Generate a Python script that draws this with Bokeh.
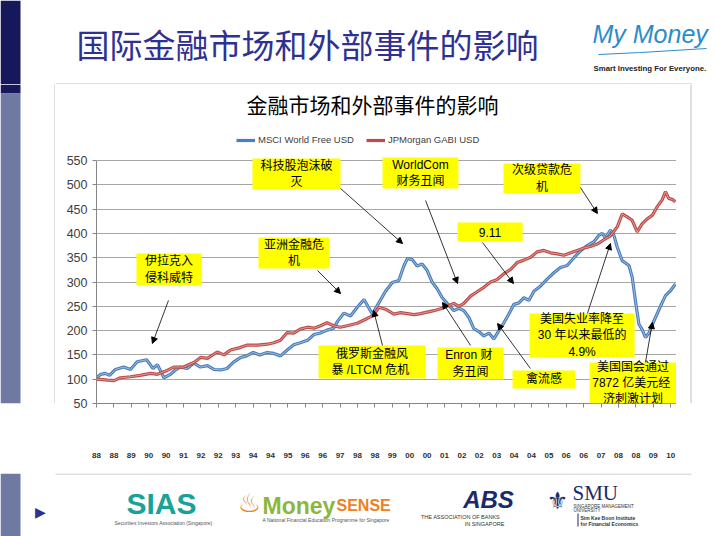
from bokeh.plotting import figure
from bokeh.layouts import column, row
from bokeh.models import (Range1d, FixedTicker, Label, BoxAnnotation, Arrow,
                          NormalHead, Legend, LegendItem)
from bokeh.embed import file_html
from bokeh.resources import INLINE

# ---------------- data (months since Jan 1988, index level) ----------------
msci_month = [0, 2, 4, 6, 8.7, 12.5, 15.6, 18.7, 23, 26, 28, 31, 34, 36, 38.4, 41.7,
              44.7, 47.8, 51, 54, 57, 60, 63, 66, 69, 72, 75, 78.5, 81.5, 84.6, 87.7,
              90.7, 93.7, 97, 100, 103, 106, 109, 111, 113.7, 116.8, 119.9, 123, 126.8,
              129.8, 132.9, 136, 139, 141.3, 142.9, 145.2, 147.4, 149.7, 152, 154.3,
              156.6, 158.9, 161.2, 164.3, 166.6, 168.9, 171.2, 173.5, 175.8, 178.1,
              180.4, 182.7, 185, 187.3, 189.6, 191.9, 194.2, 196.5, 198.8, 201.1,
              204.2, 207.2, 210.3, 213.3, 216.4, 219.5, 222.5, 225.6, 228.7, 231,
              232.5, 234, 236.3, 237.9, 239.4, 241.7, 244.8, 246.3, 247.9, 249.4,
              250.9, 252.4, 254, 255.5, 257, 259.3, 261.6, 263.9, 266.2]
msci_value = [103, 110, 112, 108, 120, 125, 120, 136, 140, 122, 130, 103, 110, 118, 125, 122,
              133, 125, 128, 120, 119, 122, 135, 144, 148, 155, 150, 155, 153, 148, 160,
              171, 175, 180, 192, 195, 201, 205, 220, 236, 230, 248, 264, 234,
              257, 281, 299, 303, 333, 348, 346, 333, 337, 324, 300,
              286, 268, 256, 241, 246, 241, 227, 204, 198, 189,
              195, 183, 200, 216, 234, 254, 257, 268, 262, 281,
              292, 306, 319, 330, 334, 350, 364, 375, 383, 396,
              400, 391, 407, 396, 372, 344, 334, 310, 258, 213,
              202, 186, 195, 212, 227, 250, 272, 282, 296]

jpm_month = [0, 3, 5, 8, 11, 15.6, 20, 25, 28, 32.5, 35.5, 40, 45, 48, 51, 55.5, 58.6,
             61.6, 66, 69, 74, 78.5, 81.5, 84.6, 87.7, 90.7, 93.7, 97, 100, 103, 106,
             109, 112, 115.3, 119.9, 124.5, 127.5, 129.8, 132.9, 136.7, 139.8, 142.9,
             146, 149, 152, 155.1, 158.2, 161.2, 164.3, 166.6, 168.9, 172, 175, 178.1,
             181.2, 184.2, 187.3, 190.4, 193.4, 196.5, 199.6, 202.6, 205.7, 208.8,
             211.8, 214.9, 218, 221, 224.1, 227.1, 230.2, 233.3, 236.3, 239.4, 241.7,
             244, 246.3, 248.6, 250.9, 253.2, 255.5, 257.8, 260.1, 261.6, 263.1,
             264.7, 266.2]
jpm_value = [100, 99, 98, 97, 103, 105, 108, 112, 110, 118, 125, 125, 135, 145, 143, 156, 150,
             160, 165, 170, 170, 172, 175, 180, 196, 195, 203, 207, 205, 210, 216,
             210, 207, 210, 215, 225, 232, 248, 244, 234, 237, 235,
             233, 235, 238, 241, 245, 250, 256, 250, 256, 271, 280, 289,
             300, 305, 317, 326, 340, 345, 351, 362, 365, 360,
             358, 355, 360, 365, 370, 373, 378, 387, 395, 413, 440,
             434, 427, 403, 420, 430, 437, 455, 469, 486, 472,
             470, 465]

series_names = ["MSCI World Free USD", "JPMorgan GABI USD"]
y_ticks = [50, 100, 150, 200, 250, 300, 350, 400, 450, 500, 550]
x_ticks = [0, 8, 16, 24, 32, 40, 48, 56, 64, 72, 80, 88, 96, 104, 112, 120, 128,
           136, 144, 152, 160, 168, 176, 184, 192, 200, 208, 216, 224, 232, 240,
           248, 256, 264]
x_labels = ["88", "88", "89", "90", "90", "91", "92", "92", "93", "94", "94", "95",
            "96", "96", "97", "98", "98", "99", "00", "00", "01", "02", "02", "03",
            "04", "04", "05", "06", "06", "07", "08", "08", "09", "10"]

# event call-outs: text, box (left, right, top, bottom) and arrow (from -> to), data units
events = ["伊拉克入\n侵科威特", "科技股泡沫破\n灭", "亚洲金融危\n机", "WorldCom\n财务丑闻",
          "次级贷款危\n机", "9.11", "俄罗斯金融风\n暴 /LTCM  危机", "Enron  财\n务丑闻",
          "禽流感", "美国失业率降至\n30 年以来最低的\n4.9%",
          "美国国会通过\n7872  亿美元经\n济刺激计划"]
event_box = [(18.4, 48.3, 358.6, 292.8), (71.7, 112.2, 554.1, 490.3),
             (74.5, 107.1, 391.6, 327.8), (131.5, 166.4, 556.2, 492.4),
             (187.1, 222.5, 543.8, 482.1), (166.0, 195.9, 422.4, 383.3),
             (102.1, 151.3, 169.3, 101.4), (156.8, 187.1, 165.2, 99.4),
             (191.3, 220.2, 117.9, 80.9), (199.1, 247.4, 235.2, 144.7),
             (226.7, 266.6, 134.4, 50.2)]
event_arrow = [(33.1, 262.0, 25.7, 173.5), (112.2, 492.4, 140.7, 379.2),
               (101.6, 323.7, 112.2, 276.3), (151.3, 467.7, 166.0, 296.9),
               (222.5, 494.4, 230.3, 440.9), (177.5, 381.3, 191.7, 296.9),
               (131.5, 169.3, 127.4, 241.4), (172.0, 169.3, 159.1, 257.8),
               (199.5, 122.0, 184.4, 214.6), (225.7, 235.2, 236.3, 379.2),
               (252.4, 134.4, 255.6, 216.7)]

# ---------------- geometry of the slide (pixels) ----------------
W, H = 715, 536
BOX_L, BOX_T, BOX_R, BOX_B = 55, 84, 690, 473      # chart border
FL, FR, FT, FB = 96, 676, 84, 403                   # chart frame (data area below y=160)
PLOT_TOP = 160
X0, X1, Y0, Y1 = 0, 266.67, 50, 550
Y_TOP = Y0 + (FB - FT) / (FB - PLOT_TOP) * (Y1 - Y0)


def dx(px):
    return X0 + (px - FL) / (FR - FL) * (X1 - X0)


def dy(py):
    return Y0 + (FB - py) / (FB - PLOT_TOP) * (Y1 - Y0)


CJK = "'Liberation Sans', 'Noto Sans CJK SC'"
NAVY = "#17175C"
SLATE = "#6E7AA2"
FRAME = "#BFBFBF"

# ---------------- chart ----------------
p = figure(width=FR - BOX_L, height=BOX_B - BOX_T, output_backend="svg",
           toolbar_location=None, title=None,
           x_range=Range1d(X0, X1), y_range=Range1d(Y0, Y_TOP),
           min_border_left=FL - BOX_L, min_border_right=0,
           min_border_top=0, min_border_bottom=BOX_B - FB)
p.outline_line_color = None
p.background_fill_color = "white"
p.border_fill_color = "white"
p.xgrid.visible = False
p.ygrid.grid_line_color = "#A6A6A6"
p.ygrid.grid_line_width = 1

p.yaxis.ticker = FixedTicker(ticks=y_ticks)
p.yaxis.bounds = (Y0, Y1)
p.yaxis.axis_line_color = "#868686"
p.yaxis.major_tick_line_color = "#868686"
p.yaxis.major_tick_out = 4
p.yaxis.major_tick_in = 0
p.yaxis.minor_tick_line_color = None
p.yaxis.major_label_text_font = "Liberation Sans"
p.yaxis.major_label_text_font_size = "12.5px"
p.yaxis.major_label_text_color = "#404040"
p.yaxis.major_label_standoff = 5

p.xaxis.ticker = FixedTicker(ticks=x_ticks)
p.xaxis.major_label_overrides = {t: l for t, l in zip(x_ticks, x_labels)}
p.xaxis.axis_line_color = "#868686"
p.xaxis.major_tick_line_color = "#868686"
p.xaxis.major_tick_out = 4
p.xaxis.major_tick_in = 0
p.xaxis.minor_tick_line_color = None
p.xaxis.major_label_text_font = "Liberation Sans"
p.xaxis.major_label_text_font_style = "bold"
p.xaxis.major_label_text_font_size = "8px"
p.xaxis.major_label_text_color = "#303030"
p.xaxis.major_label_standoff = 45

r_msci = p.line(msci_month, msci_value, line_color="#4A7EBB", line_width=3.2)
p.line(msci_month, msci_value, line_color="#D5E2F2", line_width=0.8, line_alpha=0.8)
r_jpm = p.line(jpm_month, jpm_value, line_color="#BE4B48", line_width=3.2)
p.line(jpm_month, jpm_value, line_color="#F0C8C6", line_width=0.8, line_alpha=0.8)

legend = Legend(items=[LegendItem(label=series_names[0], renderers=[r_msci]),
                       LegendItem(label=series_names[1], renderers=[r_jpm])],
                location=(140, 258), orientation="horizontal",
                background_fill_alpha=0, border_line_color=None, padding=0, margin=0,
                glyph_width=19, glyph_height=10, label_standoff=3, spacing=12,
                label_text_font="Liberation Sans", label_text_font_size="9.5px",
                label_text_color="#404040")
p.add_layout(legend)

p.add_layout(Label(x=dx(372), y=dy(103), text="金融市场和外部事件的影响", text_align="center",
                   text_baseline="middle", text_font="Noto Sans CJK SC",
                   text_font_size="21px", text_color="black"))

for txt, (l, r, t, b), (xs, ys, xe, ye) in zip(events, event_box, event_arrow):
    p.add_layout(BoxAnnotation(left=l, right=r, top=t, bottom=b, fill_color="#FFFF00",
                               fill_alpha=1, line_color=None))
    p.add_layout(Arrow(end=NormalHead(size=6, fill_color="black", line_color="black"),
                       x_start=xs, y_start=ys, x_end=xe, y_end=ye,
                       line_color="black", line_width=0.8))
    p.add_layout(Label(x=(l + r) / 2, y=(t + b) / 2, text=txt, text_align="center",
                       text_baseline="middle", text_font=CJK, text_font_size="12px",
                       text_color="black", text_line_height=1.15))


# ---------------- slide decoration panels (pixel coordinates) ----------------
def panel(x0, y0, w, h):
    f = figure(width=w, height=h, output_backend="svg", toolbar_location=None, title=None,
               x_range=Range1d(x0, x0 + w), y_range=Range1d(y0 + h, y0),
               x_axis_location=None, y_axis_location=None, min_border=0)
    f.grid.visible = False
    f.outline_line_color = None
    f.background_fill_color = "white"
    f.border_fill_color = "white"
    return f


def label(f, x, y, text, **kw):
    kw.setdefault("text_baseline", "middle")
    f.add_layout(Label(x=x, y=y, text=text, **kw))


top = panel(0, 0, W, BOX_T)
left = panel(0, BOX_T, BOX_L, BOX_B - BOX_T)
right = panel(FR, BOX_T, W - FR, BOX_B - BOX_T)
bottom = panel(0, BOX_B, W, H - BOX_B)

# left colour bar
top.quad(left=0, right=20, top=0, bottom=BOX_T, fill_color=NAVY, line_color=None)
left.quad(left=0, right=20, top=BOX_T, bottom=95, fill_color=NAVY, line_color=None)
left.quad(left=0, right=20, top=95, bottom=BOX_B, fill_color=SLATE, line_color=None)
bottom.quad(left=0, right=20, top=BOX_B, bottom=H, fill_color=SLATE, line_color=None)

# chart border
top.segment(x0=BOX_L, y0=BOX_T - 0.5, x1=BOX_R + 1, y1=BOX_T - 0.5, line_color=FRAME, line_width=1)
left.segment(x0=BOX_L - 0.5, y0=BOX_T, x1=BOX_L - 0.5, y1=BOX_B, line_color=FRAME, line_width=1)
right.segment(x0=BOX_R + 0.5, y0=BOX_T, x1=BOX_R + 0.5, y1=BOX_B, line_color=FRAME, line_width=1)
bottom.segment(x0=BOX_L, y0=BOX_B + 0.5, x1=BOX_R + 1, y1=BOX_B + 0.5, line_color=FRAME,
               line_width=1)

# slide title and logo
label(top, 307, 43, "国际金融市场和外部事件的影响", text_align="center",
      text_font="Noto Sans CJK SC", text_font_size="33px", text_color="#2E3192")
label(top, 592, 33, "My Money", text_align="left", text_font="Liberation Sans",
      text_font_style="italic", text_font_size="25px", text_color="#2B8CCB")
top.line(x=[598, 640, 706], y=[54, 52, 48], line_color="#2B8CCB", line_width=1.2)
label(top, 593, 68, "Smart Investing For Everyone.", text_align="left",
      text_font="Liberation Sans", text_font_style="bold", text_font_size="7.8px",
      text_color="#222222")

# bottom logos
label(bottom, 40, 511, "▶", text_align="center", text_font="DejaVu Sans",
      text_font_size="14px", text_color="#2E3192")
label(bottom, 161, 503, "SIAS", text_align="center", text_font="Liberation Sans",
      text_font_style="bold", text_font_size="30px", text_color="#17A398")
label(bottom, 163, 522, "Securities Investors Association (Singapore)", text_align="center",
      text_font="Liberation Sans", text_font_size="5px", text_color="#555555")
label(bottom, 249, 502, "♨", text_align="center", text_font="DejaVu Sans",
      text_font_size="26px", text_color="#EE7F22")
label(bottom, 262, 505, "Money", text_align="left", text_font="Liberation Sans",
      text_font_style="bold", text_font_size="23px", text_color="#8CB63C")
label(bottom, 336, 505, "SENSE", text_align="left", text_font="Liberation Sans",
      text_font_style="bold", text_font_size="16px", text_color="#EE7F22")
label(bottom, 262, 519, "A National Financial Education Programme for Singapore",
      text_align="left", text_font="Liberation Sans", text_font_size="5px",
      text_color="#555555")
label(bottom, 488, 499, "ABS", text_align="center", text_font="Liberation Sans",
      text_font_style="bold italic", text_font_size="24px", text_color="#1C2A6B")
label(bottom, 460, 516, "THE ASSOCIATION OF BANKS", text_align="center",
      text_font="Liberation Sans", text_font_size="5.5px", text_color="#333333")
label(bottom, 484, 523, "IN SINGAPORE", text_align="center", text_font="Liberation Sans",
      text_font_size="5.5px", text_color="#333333")
label(bottom, 557, 500, "⚜", text_align="center", text_font="DejaVu Sans",
      text_font_size="24px", text_color="#1C2A6B")
label(bottom, 572, 492, "SMU", text_align="left", text_font="Liberation Serif",
      text_font_size="21px", text_color="#1C2A6B")
label(bottom, 573, 506, "SINGAPORE MANAGEMENT", text_align="left",
      text_font="Liberation Sans", text_font_size="4.5px", text_color="#333333")
label(bottom, 573, 510, "UNIVERSITY", text_align="left", text_font="Liberation Sans",
      text_font_size="4.5px", text_color="#333333")
label(bottom, 580, 517, "Sim Kee Boon Institute", text_align="left",
      text_font="Liberation Sans", text_font_style="bold", text_font_size="5px",
      text_color="#333333")
label(bottom, 580, 523, "for Financial Economics", text_align="left",
      text_font="Liberation Sans", text_font_style="bold", text_font_size="5px",
      text_color="#333333")
bottom.quad(left=577, right=578, top=513, bottom=526, fill_color="#1C2A6B", line_color=None)

layout = column(top, row(left, p, right, spacing=0), bottom, spacing=0)
open("out.html", "w").write(file_html(layout, INLINE))
